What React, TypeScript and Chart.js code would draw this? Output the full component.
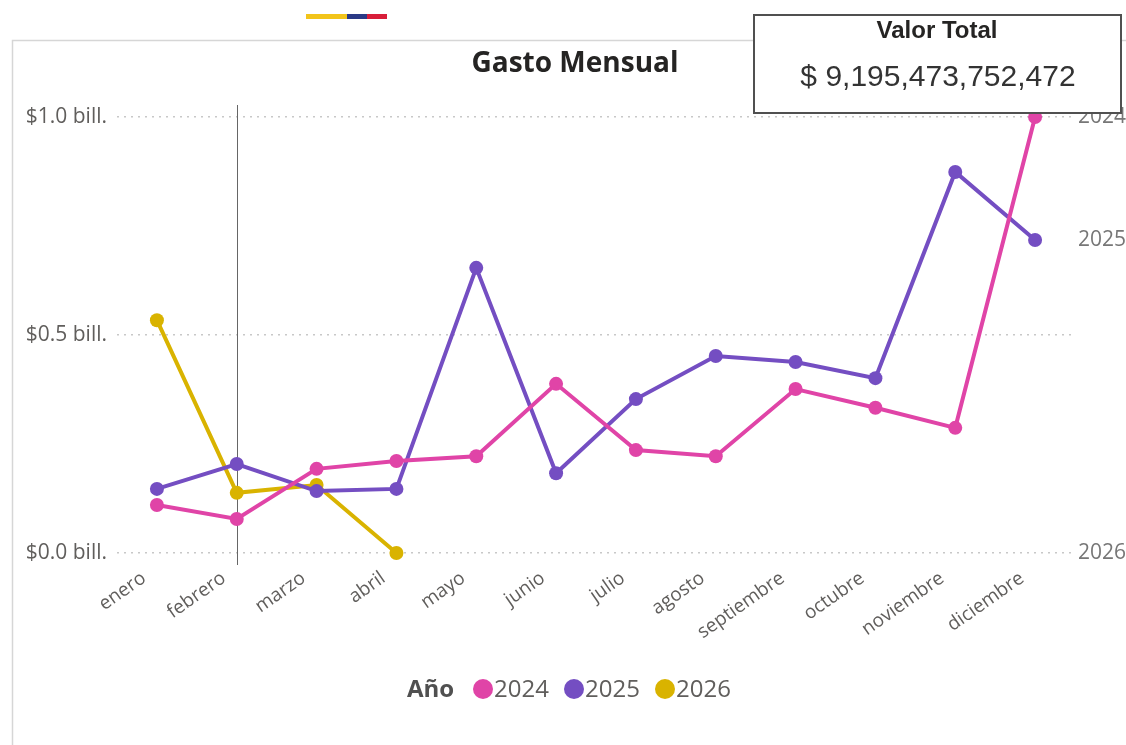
import React, { useEffect, useRef } from "react";
import { Chart, registerables } from "chart.js";

Chart.register(...registerables);

const months = ["enero", "febrero", "marzo", "abril", "mayo", "junio", "julio", "agosto", "septiembre", "octubre", "noviembre", "diciembre"];
// values in billones (10^12)
const values2024 = [0.11, 0.078, 0.193, 0.211, 0.222, 0.388, 0.236, 0.222, 0.376, 0.333, 0.287, 1.0];
const values2025 = [0.147, 0.204, 0.142, 0.147, 0.654, 0.183, 0.353, 0.452, 0.438, 0.401, 0.874, 0.718];
const values2026 = [0.534, 0.138, 0.156, 0.0, null, null, null, null, null, null, null, null];
const seriesNames = ["2024", "2025", "2026"];
const seriesColors = ["#E044A7", "#744EC2", "#D9B300"];
const yTicks = [0, 0.5, 1.0];
const chartTitle = "Gasto Mensual";
const legendTitle = "Año";
const cardTitle = "Valor Total";
const cardValue = "$ 9,195,473,752,472";
const hoverMonth = "febrero";

const FONT = "'Open Sans', 'Noto Sans', sans-serif";

const decorPlugin = {
  id: "decor",
  beforeDraw(chart: any) {
    const ctx = chart.ctx;
    ctx.save();
    // frame
    ctx.strokeStyle = "#d6d6d6";
    ctx.lineWidth = 1.5;
    ctx.beginPath();
    ctx.moveTo(12.5, 745);
    ctx.lineTo(12.5, 40.5);
    ctx.lineTo(1126, 40.5);
    ctx.stroke();
    // flag bar
    ctx.fillStyle = "#F2C41A";
    ctx.fillRect(306, 14, 41, 5);
    ctx.fillStyle = "#2B3A86";
    ctx.fillRect(347, 14, 20, 5);
    ctx.fillStyle = "#D81E3A";
    ctx.fillRect(367, 14, 20, 5);
    // title
    ctx.fillStyle = "#252423";
    ctx.font = `bold 28px ${FONT}`;
    ctx.textAlign = "center";
    ctx.textBaseline = "middle";
    ctx.fillText(chartTitle, 575, 64);
    ctx.restore();
  },
  beforeDatasetsDraw(chart: any) {
    const ctx = chart.ctx;
    const x = chart.scales.x.getPixelForValue(months.indexOf(hoverMonth));
    ctx.save();
    ctx.strokeStyle = "#666";
    ctx.lineWidth = 1;
    ctx.beginPath();
    ctx.moveTo(Math.round(x) + 0.5, 105);
    ctx.lineTo(Math.round(x) + 0.5, 565);
    ctx.stroke();
    ctx.restore();
  },
  afterDraw(chart: any) {
    const ctx = chart.ctx;
    const yScale = chart.scales.y;
    ctx.save();
    // end labels
    ctx.fillStyle = "#777";
    ctx.font = `21px ${FONT}`;
    ctx.textAlign = "left";
    ctx.textBaseline = "middle";
    chart.data.datasets.forEach((ds: any) => {
      let last: number | null = null;
      ds.data.forEach((v: any) => { if (v !== null && v !== undefined) last = v; });
      if (last !== null) ctx.fillText(ds.label, 1078, yScale.getPixelForValue(last));
    });
    // legend
    ctx.font = `bold 24px ${FONT}`;
    ctx.fillStyle = "#505050";
    ctx.textBaseline = "middle";
    ctx.fillText(legendTitle, 407, 690);
    let lx = 473;
    chart.data.datasets.forEach((ds: any) => {
      ctx.fillStyle = ds.borderColor;
      ctx.beginPath();
      ctx.arc(lx + 10, 689, 10, 0, Math.PI * 2);
      ctx.fill();
      ctx.fillStyle = "#605E5C";
      ctx.font = `24px ${FONT}`;
      ctx.fillText(ds.label, lx + 21, 690);
      lx += 91;
    });
    // card
    ctx.fillStyle = "#fff";
    ctx.fillRect(754, 15, 367, 98);
    ctx.strokeStyle = "#505050";
    ctx.lineWidth = 2;
    ctx.strokeRect(754, 15, 367, 98);
    ctx.fillStyle = "#252423";
    ctx.textAlign = "center";
    ctx.font = "bold 24px 'Liberation Sans', Arial, sans-serif";
    ctx.fillText(cardTitle, 937, 31);
    ctx.font = "30px 'Liberation Sans', Arial, sans-serif";
    ctx.fillStyle = "#333";
    ctx.fillText(cardValue, 938, 78);
    ctx.restore();
  },
};

export default function App() {
  const ref = useRef<HTMLCanvasElement>(null);
  useEffect(() => {
    if (!ref.current) return;
    const data = [values2024, values2025, values2026];
    const chart = new Chart(ref.current, {
      type: "line",
      data: {
        labels: months,
        datasets: seriesNames.map((name, i) => ({
          label: name,
          data: data[i],
          borderColor: seriesColors[i],
          backgroundColor: seriesColors[i],
          pointBackgroundColor: seriesColors[i],
          pointBorderColor: seriesColors[i],
          borderWidth: 4,
          pointRadius: 7,
          pointBorderWidth: 0,
          tension: 0,
          spanGaps: false,
          clip: false as any,
        })),
      },
      options: {
        animation: false,
        responsive: false,
        maintainAspectRatio: false,
        layout: { padding: { left: 0, right: 51, top: 117, bottom: 0 } },
        plugins: { legend: { display: false }, tooltip: { enabled: false }, title: { display: false } },
        scales: {
          x: {
            offset: true,
            grid: { display: false, drawTicks: false },
            border: { display: false },
            ticks: {
              minRotation: 35,
              maxRotation: 35,
              padding: 14,
              labelOffset: -13,
              color: "#605E5C",
              font: { family: FONT, size: 19 },
            },
            afterFit(scale: any) { scale.height = 192; },
          },
          y: {
            min: 0,
            max: 1.0,
            afterBuildTicks(scale: any) { scale.ticks = yTicks.map((v) => ({ value: v })); },
            grid: { color: "#c8c8c8", lineWidth: 1.5, drawTicks: false },
            border: { display: false, dash: [2, 5] },
            ticks: {
              padding: 10,
              color: "#605E5C",
              font: { family: FONT, size: 21 },
              callback: (v: any) => `$${Number(v).toFixed(1)} bill.`,
            },
            afterFit(scale: any) { scale.width = 117; },
          },
        },
      },
      plugins: [decorPlugin],
    });
    return () => chart.destroy();
  }, []);
  return (
    <div style={{ position: "absolute", left: 0, top: 0, width: 1126, height: 745, background: "#fff" }}>
      <canvas ref={ref} width={1126} height={745} style={{ width: 1126, height: 745 }} />
    </div>
  );
}
